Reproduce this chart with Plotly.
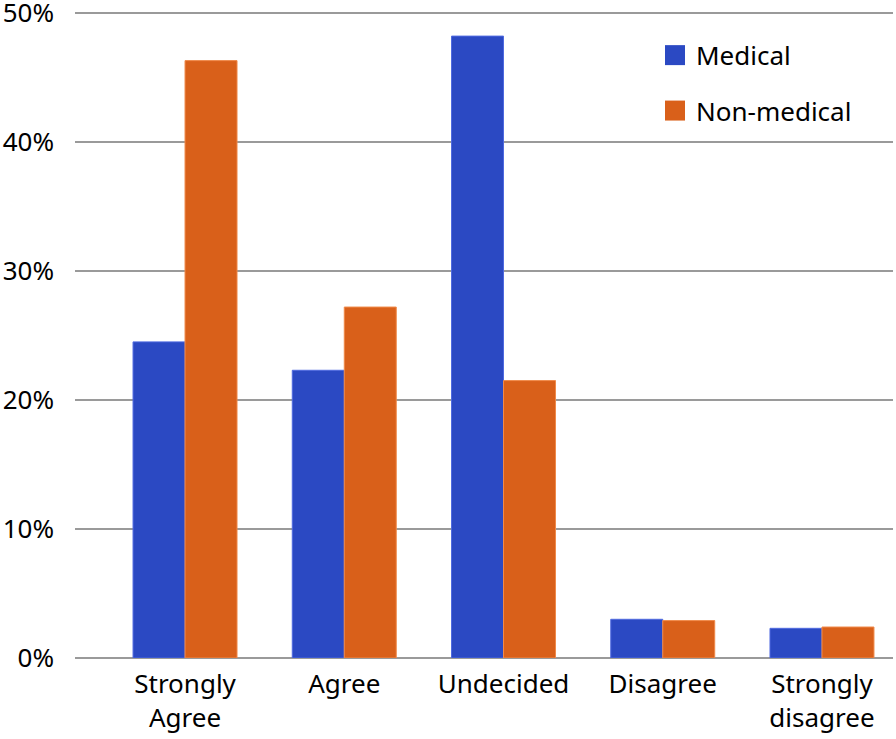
import plotly.graph_objects as go

categories = ["Strongly<br>Agree", "Agree", "Undecided", "Disagree", "Strongly<br>disagree"]
series_names = ["Medical", "Non-medical"]
medical = [24.5, 22.3, 48.2, 3.0, 2.3]
non_medical = [46.3, 27.2, 21.5, 2.9, 2.4]
colors = ["#2B49C3", "#D9601A"]
edge_colors = ["#4F6AE0", "#F08A4A"]
y_ticks = [0, 10, 20, 30, 40, 50]
y_ticktext = [f"{v}%" for v in y_ticks]

FONT = "Noto Sans"
W, H = 896, 739
L, R, T, B = 75, 3, 8.83, 80.5
pw, ph = W - L - R, H - T - B

fig = go.Figure()
for name, vals, c, ec in zip(series_names, [medical, non_medical], colors, edge_colors):
    fig.add_trace(go.Bar(x=list(range(len(categories))), y=vals, name=name,
                         marker=dict(color=c, line=dict(color=ec, width=1)),
                         showlegend=False))

# manual legend (squares + text)
def px_x(x):
    return (x - L) / pw

def px_y(y):
    return (H - B - y) / ph

legend_rows = [55, 110.5]
for name, c, cy in zip(series_names, colors, legend_rows):
    fig.add_shape(type="rect", xref="paper", yref="paper",
                  x0=px_x(665), x1=px_x(685), y0=px_y(cy + 10), y1=px_y(cy - 10),
                  fillcolor=c, line=dict(width=0))
    fig.add_annotation(xref="paper", yref="paper", x=px_x(694), y=px_y(cy),
                       xanchor="left", yanchor="middle", text=name, showarrow=False,
                       font=dict(family=FONT, size=26, color="black"))

fig.update_layout(
    width=W, height=H,
    margin=dict(l=L, r=R, t=T, b=B, pad=0, autoexpand=False),
    paper_bgcolor="white", plot_bgcolor="white",
    barmode="group", bargap=0.347, bargroupgap=0,
    font=dict(family=FONT, size=26, color="black"),
)
fig.update_xaxes(
    range=[-0.691, 4.446], automargin=False,
    tickmode="array", tickvals=list(range(len(categories))), ticktext=categories,
    showgrid=False, zeroline=False, showline=False, ticks="",
    ticklabelstandoff=8,
    tickfont=dict(family=FONT, size=26, color="black"),
)
fig.update_yaxes(
    range=[0, 50.3], automargin=False, tickmode="array", tickvals=y_ticks, ticktext=y_ticktext,
    showgrid=True, gridcolor="#9A9A9A", gridwidth=1.5,
    zeroline=True, zerolinecolor="#9A9A9A", zerolinewidth=1.5,
    showline=False, ticks="", ticklabelstandoff=20, ticklabeloverflow="allow",
    tickfont=dict(family=FONT, size=26, color="black"),
)

fig.write_html("out.html", config={"displayModeBar": False},
               post_script="document.body.style.margin='0';document.body.style.padding='0';")
